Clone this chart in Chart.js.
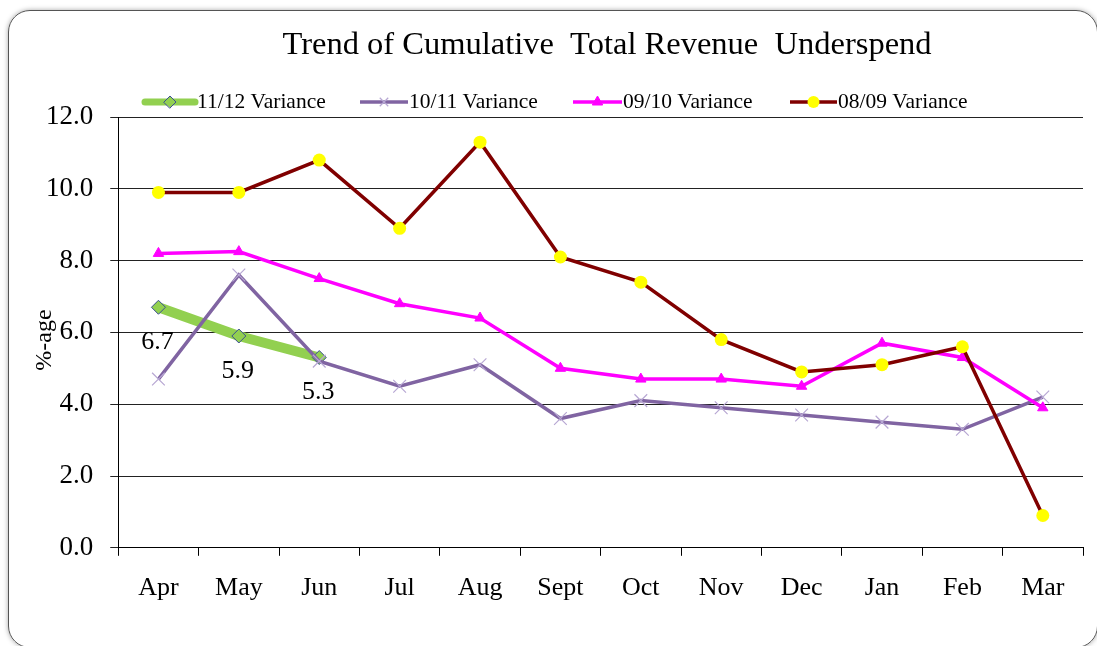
<!DOCTYPE html>
<html>
<head>
<meta charset="utf-8">
<script src="https://cdn.jsdelivr.net/npm/chart.js@4/dist/chart.umd.min.js"></script>
<style>
  html, body { margin: 0; padding: 0; background: #fff; }
  #wrap { position: relative; width: 1097px; height: 646px; overflow: hidden; }
  #frame {
    position: absolute; left: 8px; top: 10px; width: 1088px; height: 636px;
    border: 1.5px solid #555; border-radius: 22px;
    box-shadow: 0 0 5px rgba(0,0,0,0.35);
  }
  #chart { position: absolute; left: 0; top: 0; }
</style>
</head>
<body>
<div id="wrap">
  <div id="frame"></div>
  <canvas id="chart" width="1097" height="646"></canvas>
</div>
<script>
// data
const months = ['Apr', 'May', 'Jun', 'Jul', 'Aug', 'Sept', 'Oct', 'Nov', 'Dec', 'Jan', 'Feb', 'Mar'];
const var1112 = [6.7, 5.9, 5.3];
const var1011 = [4.7, 7.6, 5.2, 4.5, 5.1, 3.6, 4.1, 3.9, 3.7, 3.5, 3.3, 4.2];
const var0910 = [8.2, 8.25, 7.5, 6.8, 6.4, 5.0, 4.7, 4.7, 4.5, 5.7, 5.3, 3.9];
const var0809 = [9.9, 9.9, 10.8, 8.9, 11.3, 8.1, 7.4, 5.8, 4.9, 5.1, 5.6, 0.9];
const seriesNames = ['11/12 Variance', '10/11 Variance', '09/10 Variance', '08/09 Variance'];
const yTicks = [0, 2, 4, 6, 8, 10, 12];

const serif = "'Liberation Serif', 'Times New Roman', serif";

// legend layout: line start, line end, text start
const legendSlots = [[145, 195, 197], [360, 408, 409], [573, 622, 623], [790, 837, 838]];

function marker(ctx, ds, x, y, r) {
  ctx.save();
  ctx.fillStyle = ds.pointBackgroundColor;
  ctx.strokeStyle = ds.pointBorderColor;
  ctx.lineWidth = ds.pointBorderWidth;
  if (Chart.helpers && Chart.helpers.drawPoint) {
    Chart.helpers.drawPoint(ctx, { pointStyle: ds.pointStyle, radius: r, rotation: 0, borderWidth: ds.pointBorderWidth }, x, y);
  }
  ctx.restore();
}

const overlay = {
  id: 'overlay',
  afterDatasetsDraw(chart) {
    const ctx = chart.ctx;
    const meta = chart.getDatasetMeta(0);
    ctx.save();
    ctx.font = '26px ' + serif;
    ctx.fillStyle = '#000';
    ctx.textAlign = 'center';
    ctx.textBaseline = 'middle';
    meta.data.forEach((pt, i) => {
      ctx.fillText(var1112[i].toFixed(1), pt.x - 1, pt.y + 35);
    });
    ctx.restore();
  },
  afterDraw(chart) {
    const ctx = chart.ctx;
    ctx.save();
    // title
    ctx.fillStyle = '#000';
    ctx.font = '32.5px ' + serif;
    ctx.textAlign = 'center';
    ctx.textBaseline = 'alphabetic';
    ctx.fillText('Trend of Cumulative  Total Revenue  Underspend', 607, 54);

    // legend
    chart.data.datasets.forEach((ds, i) => {
      const [x1, x2, tx] = legendSlots[i];
      const y = 102;
      ctx.strokeStyle = ds.borderColor;
      ctx.lineWidth = i === 0 ? 7 : 3.5;
      ctx.lineCap = i === 0 ? 'round' : 'butt';
      ctx.beginPath();
      ctx.moveTo(x1, y);
      ctx.lineTo(x2, y);
      ctx.stroke();
      marker(ctx, ds, (x1 + x2) / 2, y, 6);
      ctx.fillStyle = '#000';
      ctx.font = '21.5px ' + serif;
      ctx.textAlign = 'left';
      ctx.textBaseline = 'alphabetic';
      ctx.fillText(ds.label, tx, 108);
    });

    // y axis title, overlapping the tick labels as in the original
    ctx.translate(45, 340);
    ctx.rotate(-Math.PI / 2);
    ctx.font = '24px ' + serif;
    ctx.textAlign = 'center';
    ctx.textBaseline = 'middle';
    ctx.fillStyle = '#000';
    ctx.fillText('%-age', 0, 0);
    ctx.restore();
  }
};

new Chart(document.getElementById('chart'), {
  type: 'line',
  data: {
    labels: months,
    datasets: [
      {
        label: seriesNames[0], data: var1112, order: 3,
        borderColor: '#92D050', borderWidth: 10, borderCapStyle: 'round',
        pointStyle: 'rectRot', pointRadius: 7, pointBackgroundColor: '#92D050',
        pointBorderColor: '#3B4E94', pointBorderWidth: 1
      },
      {
        label: seriesNames[1], data: var1011, order: 2,
        borderColor: '#8064A2', borderWidth: 3.5,
        pointStyle: 'crossRot', pointRadius: 9, pointBackgroundColor: '#B7A7D3',
        pointBorderColor: '#B7A7D3', pointBorderWidth: 1.2
      },
      {
        label: seriesNames[2], data: var0910, order: 1,
        borderColor: '#FF00FF', borderWidth: 3.5,
        pointStyle: 'triangle', pointRadius: 6, pointBackgroundColor: '#FF00FF',
        pointBorderColor: '#FF00FF', pointBorderWidth: 1
      },
      {
        label: seriesNames[3], data: var0809, order: 0,
        borderColor: '#800000', borderWidth: 3.5,
        pointStyle: 'circle', pointRadius: 6.5, pointBackgroundColor: '#FFFF00',
        pointBorderColor: '#FFFF00', pointBorderWidth: 0
      }
    ]
  },
  options: {
    responsive: false,
    animation: false,
    layout: { padding: { left: 29, right: 14, top: 117, bottom: 25 } },
    plugins: {
      legend: { display: false },
      title: { display: false },
      tooltip: { enabled: false }
    },
    elements: { line: { tension: 0 } },
    scales: {
      x: {
        offset: true,
        grid: { offset: true, drawOnChartArea: false, drawTicks: true, tickLength: 8, color: '#000' },
        border: { color: '#000', width: 1 },
        ticks: { color: '#000', font: { family: serif, size: 26 }, padding: 17 }
      },
      y: {
        min: 0, max: 12,
        afterBuildTicks: (axis) => { axis.ticks = yTicks.map(v => ({ value: v })); },
        grid: { color: '#222', lineWidth: 1, tickLength: 8 },
        border: { color: '#000', width: 1 },
        ticks: { color: '#000', font: { family: serif, size: 27 }, padding: 17, callback: (v) => Number(v).toFixed(1) }
      }
    }
  },
  plugins: [overlay]
});
</script>
</body>
</html>
